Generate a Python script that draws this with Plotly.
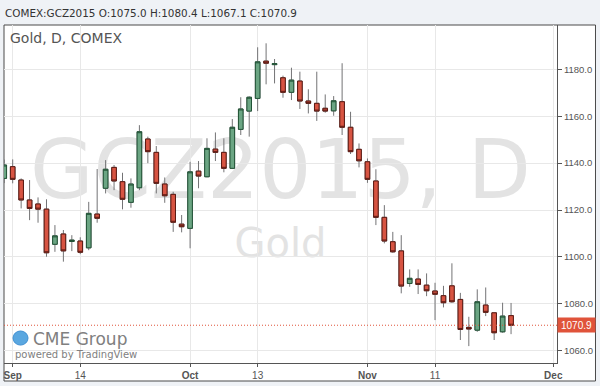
import plotly.graph_objects as go

# ---- data ----
open_ = [1133.5, 1138.5, 1132.8, 1124.3, 1122.6, 1120.4, 1105.4, 1109.8, 1106.6, 1106.8,
         1103.9, 1118.3, 1129.3, 1138.2, 1132.1, 1123.3, 1129.5, 1150.3, 1144.6, 1131.1,
         1126.7, 1114.0, 1112.2, 1136.6, 1134.2, 1146.0, 1144.6, 1137.8, 1154.4, 1162.2,
         1167.6, 1183.5, 1182.0, 1176.4, 1170.2, 1175.0, 1166.5, 1165.5, 1163.4, 1162.3,
         1166.2, 1155.3, 1145.9, 1140.6, 1132.4, 1116.9, 1106.5, 1102.6, 1088.7, 1090.6,
         1088.0, 1085.5, 1083.5, 1087.7, 1081.9, 1070.0, 1068.8, 1079.5, 1076.2, 1068.1,
         1075.0]
high = [1141.5, 1141.6, 1133.5, 1132.8, 1125.4, 1124.6, 1113.6, 1111.5, 1109.3, 1108.4,
        1123.5, 1137.5, 1141.3, 1139.2, 1135.9, 1133.5, 1156.2, 1151.3, 1147.3, 1133.9,
        1127.8, 1117.9, 1140.6, 1140.9, 1150.6, 1153.1, 1150.6, 1158.8, 1168.1, 1168.5,
        1189.4, 1191.1, 1184.4, 1177.3, 1180.7, 1179.0, 1171.5, 1179.0, 1169.3, 1168.6,
        1182.6, 1161.9, 1148.4, 1142.0, 1137.4, 1122.1, 1110.7, 1109.3, 1094.7, 1094.7,
        1093.0, 1089.0, 1087.7, 1097.3, 1084.7, 1074.5, 1086.2, 1087.0, 1076.2, 1080.5,
        1080.4]
low = [1131.5, 1131.4, 1120.7, 1115.7, 1114.6, 1100.1, 1102.2, 1098.0, 1102.5, 1101.2,
       1102.9, 1114.6, 1127.1, 1128.5, 1120.3, 1121.0, 1128.5, 1140.0, 1127.1, 1123.1,
       1110.7, 1110.5, 1103.7, 1129.3, 1134.0, 1140.9, 1136.1, 1137.5, 1152.0, 1151.3,
       1162.2, 1173.6, 1174.0, 1167.9, 1166.9, 1163.1, 1161.2, 1158.0, 1161.5, 1160.2,
       1152.0, 1143.9, 1138.2, 1131.6, 1113.6, 1105.8, 1101.8, 1084.5, 1087.3, 1084.2,
       1083.3, 1073.1, 1078.5, 1080.5, 1064.6, 1062.0, 1068.1, 1074.8, 1064.6, 1067.7,
       1067.1]
close = [1139.2, 1133.1, 1124.3, 1120.7, 1120.4, 1101.8, 1109.0, 1102.6, 1107.2, 1102.0,
         1118.6, 1116.5, 1137.4, 1132.4, 1124.6, 1131.1, 1153.4, 1144.9, 1131.4, 1126.1,
         1114.8, 1112.9, 1136.3, 1134.5, 1146.3, 1144.6, 1137.8, 1155.3, 1163.1, 1168.1,
         1183.2, 1182.6, 1182.4, 1170.2, 1175.4, 1166.5, 1165.5, 1162.2, 1162.2, 1166.6,
         1155.3, 1144.9, 1141.0, 1133.1, 1116.9, 1106.8, 1102.2, 1087.6, 1090.9, 1088.3,
         1085.6, 1084.1, 1080.5, 1080.9, 1069.1, 1069.3, 1080.9, 1076.4, 1067.7, 1074.8,
         1070.9]
bar_index = list(range(len(close)))

tick_positions = [1, 9, 22, 30, 43, 51, 65]
tick_labels = ["<b>Sep</b>", "14", "<b>Oct</b>", "13", "<b>Nov</b>", "11", "<b>Dec</b>"]
price_ticks = [1060, 1080, 1100, 1120, 1140, 1160, 1180]

symbol = "COMEX:GCZ2015"

UP_FILL, DN_FILL = "#6ba583", "#d75442"
UP_BORDER, DN_BORDER = "#225437", "#5b1a13"
WICK = "#737375"
LAST_PRICE = "#e0533a"

body_hi = [max(o, c) for o, c in zip(open_, close)]
body_lo = [min(o, c) for o, c in zip(open_, close)]

fig = go.Figure()
# wicks
fig.add_trace(go.Candlestick(
    x=bar_index, open=open_, high=high, low=low, close=close,
    increasing=dict(line=dict(color=WICK, width=1), fillcolor=UP_FILL),
    decreasing=dict(line=dict(color=WICK, width=1), fillcolor=DN_FILL),
    hoverinfo="skip", showlegend=False,
))
# bodies with dark borders
fig.add_trace(go.Candlestick(
    x=bar_index, open=open_, high=body_hi, low=body_lo, close=close,
    increasing=dict(line=dict(color=UP_BORDER, width=1), fillcolor=UP_FILL),
    decreasing=dict(line=dict(color=DN_BORDER, width=1), fillcolor=DN_FILL),
    hoverinfo="skip", showlegend=False,
))

last_o, last_h, last_l, last_c = open_[-1], high[-1], low[-1], close[-1]

shapes = [
    # chart frame
    dict(type="rect", xref="paper", yref="paper", x0=0, x1=1.0696, y0=-0.0533, y1=1,
         line=dict(color="#4a4a4a", width=1), fillcolor="white", layer="below"),
    # watermark
    dict(type="rect", xref="paper", yref="paper", x0=0, x1=1, y0=0.46, y1=0.722,
         line=dict(width=0), fillcolor="rgba(0,0,0,0)", layer="below",
         label=dict(text="GCZ2015, D", textposition="middle center",
                    font=dict(family="DejaVu Sans", size=82, color="#e3e3e3"))),
    dict(type="rect", xref="paper", yref="paper", x0=0, x1=1, y0=0.303, y1=0.423,
         line=dict(width=0), fillcolor="rgba(0,0,0,0)", layer="below",
         label=dict(text="Gold", textposition="middle center",
                    font=dict(family="DejaVu Sans", size=40, color="#e3e3e3"))),
    # last price line
    dict(type="line", xref="paper", yref="y", x0=0, x1=1, y0=last_c, y1=last_c,
         line=dict(color=LAST_PRICE, width=1, dash="1px,2px")),
    # CME globe
    dict(type="circle", xref="paper", yref="paper", x0=0.0163, x1=0.0434, y0=0.053, y1=0.0947,
         line=dict(color="#3f8fd2", width=1), fillcolor="#5aa7e0"),
]

annotations = [
    dict(text=f"{symbol} O:{last_o:.1f} H:{last_h:.1f} L:{last_l:.1f} C:{last_c:.1f}",
         xref="paper", yref="paper", x=-0.0018, y=1.0355, xanchor="left", yanchor="middle",
         showarrow=False, font=dict(family="DejaVu Sans", size=10.4, color="#333333")),
    dict(text="Gold, D, COMEX", xref="paper", yref="paper", x=0.0072, y=0.9615,
         xanchor="left", yanchor="middle", showarrow=False,
         font=dict(family="DejaVu Sans", size=14, color="#555555")),
    dict(text=f"{last_c:.1f}", xref="paper", yref="y", x=1.0, y=last_c,
         xanchor="left", yanchor="middle", showarrow=False, bgcolor=LAST_PRICE,
         width=35, height=12, borderpad=1,
         font=dict(family="Liberation Sans", size=10, color="white")),
    dict(text="CME Group", xref="paper", yref="paper", x=0.0488, y=0.071,
         xanchor="left", yanchor="middle", showarrow=False,
         font=dict(family="DejaVu Sans", size=17, color="#808080")),
    dict(text="powered by TradingView", xref="paper", yref="paper", x=0.0163, y=0.0251,
         xanchor="left", yanchor="middle", showarrow=False,
         font=dict(family="DejaVu Sans", size=10, color="#808080")),
]

fig.update_layout(
    width=600, height=386,
    margin=dict(l=4, r=43, t=25, b=23),
    paper_bgcolor="#eff2f6", plot_bgcolor="white",
    boxgap=0.22,
    shapes=shapes, annotations=annotations,
    hovermode=False,
    xaxis=dict(
        range=[-0.03, 65.44], rangeslider=dict(visible=False),
        tickmode="array", tickvals=tick_positions, ticktext=tick_labels,
        showgrid=True, gridcolor="#e8e8e8", gridwidth=1, zeroline=False,
        showline=True, linecolor="#555555", linewidth=1,
        ticks="outside", ticklen=3, tickcolor="#555555",
        tickfont=dict(family="Liberation Sans", size=10, color="#555555"),
        fixedrange=True,
    ),
    yaxis=dict(
        side="right", range=[1054.8, 1198.9],
        tickmode="array", tickvals=price_ticks, tickformat=".1f",
        showgrid=True, gridcolor="#e8e8e8", gridwidth=1, zeroline=False,
        showline=True, linecolor="#555555", linewidth=1,
        ticks="outside", ticklen=4, tickcolor="#555555",
        tickfont=dict(family="Liberation Sans", size=9.5, color="#555555"),
        fixedrange=True,
    ),
)

fig.write_html(
    "out.html",
    config={"displayModeBar": False},
    post_script="document.body.style.margin='0';document.body.style.overflow='hidden';",
)
